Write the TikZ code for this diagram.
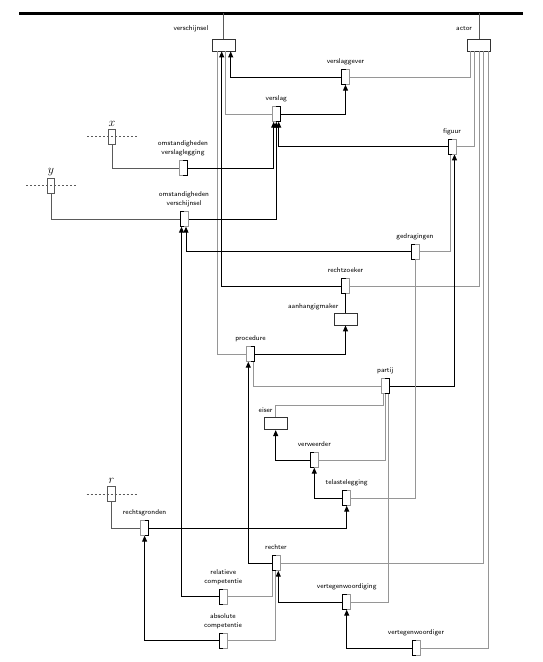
\documentclass[tikz,border=0pt]{standalone}
\usepackage{tikz}
\usetikzlibrary{arrows.meta, positioning}
\definecolor{rolegray}{RGB}{150,150,150}
\definecolor{linkgray}{RGB}{90,90,90}

\begin{document}
\begin{tikzpicture}[x=1pt, y=-1pt,
    objbox/.style={rectangle, draw=black!80, line width=0.8pt, fill=white, minimum width=23pt, minimum height=12pt, inner sep=0pt},
    factbox/.style={rectangle, fill=white, minimum width=7.5pt, minimum height=15pt, inner sep=0pt},
    varbox/.style={rectangle, draw=black!65, line width=0.8pt, fill=white, minimum width=7.5pt, minimum height=15pt, inner sep=0pt},
    txt/.style={font=\sffamily\fontsize{7}{9}\selectfont, inner sep=0pt, text height=5pt, text depth=1.5pt, align=center},
    vartxt/.style={font=\fontsize{12}{12}\selectfont, inner sep=0pt},
    roleline/.style={draw=black, line width=1pt, -{Triangle[length=6pt,width=5pt]}},
    linkline/.style={draw=rolegray, line width=0.8pt},
    varline/.style={draw=linkgray, line width=0.8pt}]
    \useasboundingbox (0,0) rectangle (543,662);

    % Top bar
    \coordinate (barL) at (19,13.3);
    \coordinate (barR) at (523,13.3);
    \draw[line width=3.3pt] (barL) -- (barR);

    % Object types
    \node[objbox] (verschijnsel) at (223.5,45) {};
    \node[objbox] (actor) at (479,45) {};
    \node[objbox] (aanhangigmaker) at (345.5,319) {};
    \node[objbox] (eiser) at (275.7,423.7) {};
    \node[txt, above left=6pt and 15pt of verschijnsel.north] (verschijnsel-t) {verschijnsel};
    \node[txt, above left=6pt and 7pt of actor.north] (actor-t) {actor};
    \node[txt, above left=2pt and 7pt of aanhangigmaker.north] (aanhangigmaker-t) {aanhangigmaker};
    \node[txt, above left=3pt and 3pt of eiser.north] (eiser-t) {eiser};
    \draw[varline] (verschijnsel.north) -- (verschijnsel.north |- barL);
    \draw[varline] (actor.north) -- (actor.north |- barL);

    % Fact types
    \node[factbox] (vslg) at (345.5,77) {};
    \node[factbox] (vslag) at (276.3,114) {};
    \node[factbox] (ovl) at (183,168) {};
    \node[factbox] (ovs) at (184,219) {};
    \node[factbox] (fig) at (452,146.7) {};
    \node[factbox] (gedr) at (415,251.8) {};
    \node[factbox] (rz) at (345.5,286) {};
    \node[factbox] (proc) at (250.5,354) {};
    \node[factbox] (partij) at (385.3,386) {};
    \node[factbox] (verw) at (314.3,460) {};
    \node[factbox] (tl) at (346.7,498) {};
    \node[factbox] (rg) at (144.6,528) {};
    \node[factbox] (rechter) at (276,563) {};
    \node[factbox] (relc) at (223.3,596.7) {};
    \node[factbox] (absc) at (223,640.8) {};
    \node[factbox] (vtw) at (346.7,602) {};
    \node[factbox] (vtwr) at (416,648) {};

    \node[txt, above=4pt of vslg] (vslg-t) {verslaggever};
    \node[txt, above=4pt of vslag] (vslag-t) {verslag};
    \node[txt, above=4pt of ovl] (ovl-t) {omstandigheden\\verslaglegging};
    \node[txt, above=4pt of ovs] (ovs-t) {omstandigheden\\verschijnsel};
    \node[txt, above=4pt of fig] (fig-t) {figuur};
    \node[txt, above=4pt of gedr] (gedr-t) {gedragingen};
    \node[txt, above=4pt of rz] (rz-t) {rechtzoeker};
    \node[txt, above=4pt of proc] (proc-t) {procedure};
    \node[txt, above=4pt of partij] (partij-t) {partij};
    \node[txt, above=4pt of verw] (verw-t) {verweerder};
    \node[txt, above=4pt of tl] (tl-t) {telastelegging};
    \node[txt, above=4pt of rg] (rg-t) {rechtsgronden};
    \node[txt, above=4pt of rechter] (rechter-t) {rechter};
    \node[txt, above=4pt of relc] (relc-t) {relatieve\\competentie};
    \node[txt, above=4pt of absc] (absc-t) {absolute\\competentie};
    \node[txt, above=4pt of vtw] (vtw-t) {vertegenwoordiging};
    \node[txt, above=4pt of vtwr] (vtwr-t) {vertegenwoordiger};

    % Variables
    \node[varbox] (varx) at (112,136.5) {};
    \node[varbox] (vary) at (51,185.5) {};
    \node[varbox] (varr) at (111.5,494) {};
    \node[vartxt, above=2pt of varx] (varx-t) {$x$};
    \node[vartxt, above=2pt of vary] (vary-t) {$y$};
    \node[vartxt, above=2pt of varr] (varr-t) {$r$};
    \foreach \v in {varx, vary, varr}
        \draw[linkgray, dash pattern=on 2pt off 2pt] ([xshift=-25pt]\v.center) -- ([xshift=25pt]\v.center);

    % Roles: left side
    \draw[roleline] (vslg.west) -| ([xshift=7.2pt]verschijnsel.south);
    \draw[linkline] (vslag.west) -| ([xshift=2.2pt]verschijnsel.south);
    \draw[roleline] (rz.west) -| ([xshift=-1.8pt]verschijnsel.south);
    \draw[linkline] (proc.west) -| ([xshift=-6pt]verschijnsel.south);
    \draw[varline] (ovl.west) -| (varx.south);
    \draw[varline] (ovs.west) -| (vary.south);
    \draw[varline] (rg.west) -| (varr.south);
    \draw[roleline] (fig.west) -| ([xshift=2.4pt]vslag.south);
    \draw[roleline] (gedr.west) -| ([xshift=2pt]ovs.south);
    \draw[linkline] (partij.west) -| ([xshift=2.5pt]proc.south);
    \draw[roleline] (verw.west) -| (eiser.south);
    \draw[roleline] (tl.west) -| (verw.south);
    \draw[roleline] (rechter.west) -| ([xshift=-2.2pt]proc.south);
    \draw[roleline] (relc.west) -| ([xshift=-2.5pt]ovs.south);
    \draw[roleline] (absc.west) -| (rg.south);
    \draw[roleline] (vtw.west) -| ([xshift=2.3pt]rechter.south);
    \draw[roleline] (vtwr.west) -| (vtw.south);

    % Roles: right side
    \draw[linkline] (vslg.east) -| ([xshift=-8.5pt]actor.south);
    \draw[roleline] (vslag.east) -| (vslg.south);
    \draw[roleline] (ovl.east) -| ([xshift=-2.6pt]vslag.south);
    \draw[roleline] (ovs.east) -| (vslag.south);
    \draw[linkline] (fig.east) -| ([xshift=-4.2pt]actor.south);
    \draw[linkline] (gedr.east) -| ([xshift=-2pt]fig.south);
    \draw[linkline] (rz.east) -| (actor.south);
    \draw[roleline] (proc.east) -| (aanhangigmaker.south);
    \draw[roleline] (partij.east) -| ([xshift=2.5pt]fig.south);
    \draw[linkline] (eiser.north) -- ++(0,-12.3) -| ([xshift=-2pt]partij.south);
    \draw[linkline] (verw.east) -| (partij.south);
    \draw[linkline] (tl.east) -| (gedr.south);
    \draw[roleline] (rg.east) -| (tl.south);
    \draw[linkline] (rechter.east) -| ([xshift=4.5pt]actor.south);
    \draw[linkline] (relc.east) -| ([xshift=-3.3pt]rechter.south);
    \draw[linkline] (absc.east) -| ([xshift=-1pt]rechter.south);
    \draw[linkline] (vtw.east) -| ([xshift=3pt]partij.south);
    \draw[linkline] (vtwr.east) -| ([xshift=9pt]actor.south);
    \draw[black, line width=0.8pt] (rz.south) -- (aanhangigmaker.north);

    % Fact box outlines, left half / right half
    \foreach \n/\lc/\rc in {vslg/black/rolegray, vslag/rolegray/black, ovl/rolegray/black,
            ovs/black/rolegray, fig/black/rolegray, gedr/black/rolegray, rz/black/rolegray,
            proc/rolegray/black, partij/rolegray/black, verw/black/rolegray, tl/black/rolegray,
            rg/rolegray/black, rechter/black/rolegray, relc/black/rolegray, absc/black/rolegray,
            vtw/black/rolegray, vtwr/black/rolegray} {
        \draw[\lc, line width=0.8pt] (\n.north) -| (\n.south west) -- (\n.south);
        \draw[\rc, line width=0.8pt] (\n.north) -| (\n.south east) -- (\n.south);
    }
\end{tikzpicture}
\end{document}
